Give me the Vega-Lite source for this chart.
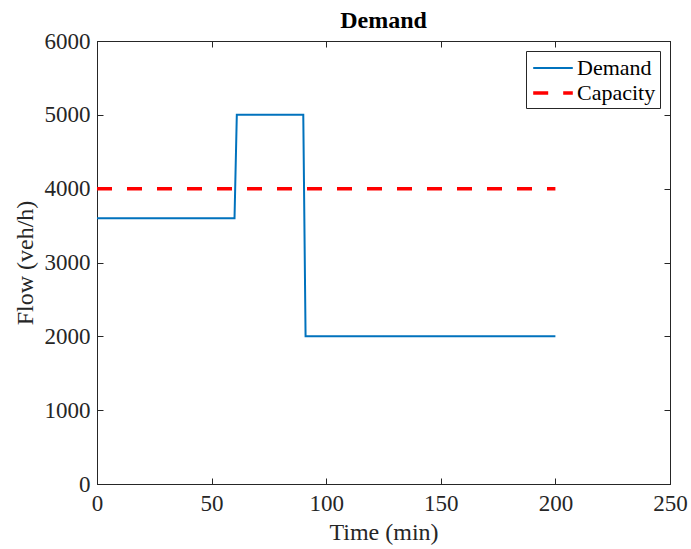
{
  "$schema": "https://vega.github.io/schema/vega-lite/v6.json",
  "autosize": {"type": "none"},
  "width": 573,
  "height": 443,
  "padding": {"left": 97, "top": 41, "right": 21, "bottom": 65},
  "background": "white",
  "title": {"text": "Demand", "font": "Liberation Serif", "fontSize": 24, "fontWeight": "bold", "color": "#000000", "offset": -3},
  "config": {
    "view": {"stroke": "#262626", "strokeWidth": 1},
    "axis": {"labelFont": "Liberation Serif", "titleFont": "Liberation Serif", "labelFontSize": 23, "titleFontSize": 24, "titleFontWeight": "normal", "labelColor": "#262626", "titleColor": "#262626", "domainColor": "#262626", "tickColor": "#262626", "grid": false, "tickSize": -6, "format": "d", "labelFlush": false}
  },
  "data": {"values": [
    {"t": 0, "flow": 3600, "series": "Demand"},
    {"t": 60, "flow": 3600, "series": "Demand"},
    {"t": 61, "flow": 5000, "series": "Demand"},
    {"t": 90, "flow": 5000, "series": "Demand"},
    {"t": 91, "flow": 2000, "series": "Demand"},
    {"t": 200, "flow": 2000, "series": "Demand"},
    {"t": 0, "flow": 4000, "series": "Capacity"},
    {"t": 200, "flow": 4000, "series": "Capacity"}
  ]},
  "layer": [
    {
      "mark": {"type": "line", "opacity": 0},
      "encoding": {
        "x": {"field": "t", "type": "quantitative", "scale": {"domain": [0, 250], "nice": false}, "axis": {"orient": "top", "labels": false, "title": null, "values": [0, 50, 100, 150, 200, 250]}},
        "y": {"field": "flow", "type": "quantitative", "scale": {"domain": [0, 6000], "nice": false}, "axis": {"orient": "right", "labels": false, "title": null, "values": [0, 1000, 2000, 3000, 4000, 5000, 6000]}},
        "detail": {"field": "series"}
      }
    },
    {
      "mark": {"type": "line", "interpolate": "linear"},
      "encoding": {
        "x": {"field": "t", "type": "quantitative", "scale": {"domain": [0, 250], "nice": false}, "axis": {"orient": "bottom", "title": "Time (min)", "values": [0, 50, 100, 150, 200, 250], "labelPadding": 14, "titlePadding": 5}},
        "y": {"field": "flow", "type": "quantitative", "scale": {"domain": [0, 6000], "nice": false}, "axis": {"orient": "left", "title": "Flow (veh/h)", "values": [0, 1000, 2000, 3000, 4000, 5000, 6000], "labelPadding": 13, "titlePadding": 7}},
        "color": {"field": "series", "type": "nominal", "scale": {"domain": ["Demand", "Capacity"], "range": ["#0072BD", "#FF0000"]},
          "legend": {"title": null, "orient": "none", "legendX": 429, "legendY": 10, "labelFont": "Liberation Serif", "labelFontSize": 22, "labelColor": "#000000", "symbolType": "M-1.65,0H1.65", "symbolSize": 576, "symbolOffset": 9, "symbolStrokeWidth": 3, "strokeColor": "#262626", "fillColor": "white", "padding": 4, "rowPadding": 0, "labelOffset": 10}},
        "strokeDash": {"field": "series", "type": "nominal", "scale": {"domain": ["Demand", "Capacity"], "range": [[1, 0], [15, 15]]}},
        "strokeWidth": {"field": "series", "type": "nominal", "scale": {"domain": ["Demand", "Capacity"], "range": [2, 3.5]}, "legend": null}
      }
    }
  ],
  "resolve": {"axis": {"x": "independent", "y": "independent"}}
}
